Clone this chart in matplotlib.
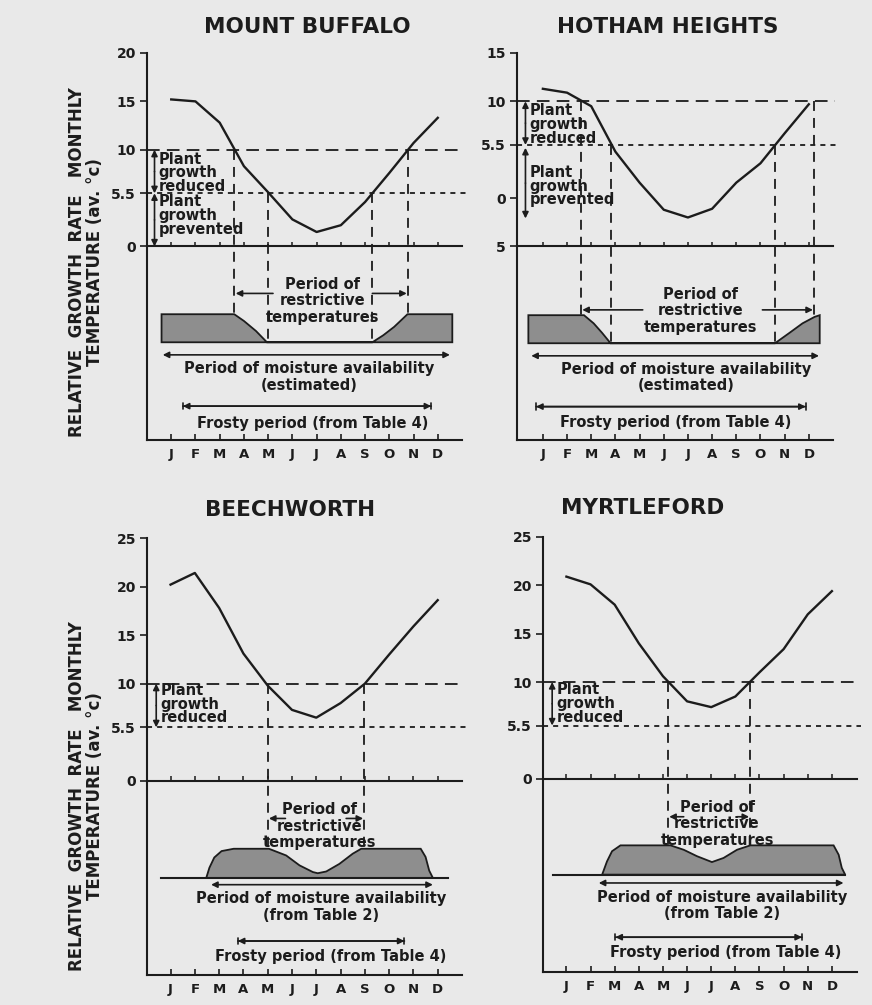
import matplotlib.pyplot as plt

plt.rcParams['font.family'] = ['DejaVu Sans']
plt.rcParams['font.weight'] = 'bold'

W, H = 872, 1005
bg = "#e9e9e9"
ink = "#1c1c1c"
shade = "#8e8e8e"

months = ["J", "F", "M", "A", "M", "J", "J", "A", "S", "O", "N", "D"]
mpos = list(range(12))

# mean monthly temperature (av. deg C)
buffalo_temp = [15.2, 15.0, 12.8, 8.3, 5.6, 2.8, 1.5, 2.2, 4.6, 7.6, 10.7, 13.3]
hotham_temp = [11.3, 10.9, 9.5, 4.8, 1.6, -1.2, -2.0, -1.1, 1.6, 3.6, 6.7, 9.7]
beech_temp = [20.2, 21.4, 17.8, 13.1, 9.8, 7.3, 6.5, 8.0, 10.0, 13.0, 15.9, 18.6]
myrtle_temp = [20.9, 20.1, 18.0, 14.0, 10.6, 8.0, 7.4, 8.5, 11.0, 13.4, 17.0, 19.4]

# restrictive period boundaries (month position): 10 deg and 5.5 deg crossings
buffalo_restrict = [2.61, 3.99, 8.28, 9.77]
hotham_restrict = [1.58, 2.82, 9.6, 11.22]
beech_restrict = [4.0, 7.98]
myrtle_restrict = [4.21, 7.62]

# moisture availability and frosty periods (start, end month position)
buffalo_moist = [-0.35, 11.5]
hotham_moist = [-0.48, 11.42]
beech_moist = [1.67, 10.8]
myrtle_moist = [1.34, 11.48]

buffalo_frost = [0.48, 10.73]
hotham_frost = [-0.28, 10.87]
beech_frost = [2.77, 9.63]
myrtle_frost = [2.03, 9.76]

# relative growth rate (0 = none, 1 = full)
buffalo_gx = [-0.4, 2.6, 3.0, 3.5, 3.95, 8.3, 8.75, 9.2, 9.75, 11.6]
buffalo_g = [1, 1, 0.76, 0.4, 0, 0, 0.25, 0.55, 1, 1]
hotham_gx = [-0.6, 1.7, 2.1, 2.45, 2.8, 9.6, 10.2, 10.74, 11.24, 11.45]
hotham_g = [1, 1, 0.71, 0.37, 0, 0, 0.37, 0.71, 0.94, 1]
beech_gx = [1.47, 1.6, 1.8, 2.1, 2.6, 4.05, 4.76, 5.31, 5.86, 6.06, 6.41, 6.95, 7.5, 7.85,
            10.3, 10.5, 10.65, 10.8]
beech_g = [0, 0.35, 0.7, 0.92, 1, 1, 0.77, 0.43, 0.2, 0.16, 0.22, 0.48, 0.83, 1,
           1, 0.72, 0.25, 0]
myrtle_gx = [1.48, 1.68, 1.89, 2.24, 4.31, 4.86, 5.41, 6.03, 6.51, 7.07, 7.62, 11.07, 11.28,
             11.41, 11.55]
myrtle_g = [0, 0.45, 0.8, 1, 1, 0.85, 0.63, 0.43, 0.57, 0.85, 1, 1, 0.68, 0.23, 0]

FS = 10.5


def arrow(ax, x0, y0, x1, y1, style="-|>"):
    ax.annotate("", xy=(x1, y1), xytext=(x0, y0),
                arrowprops=dict(arrowstyle=style, color=ink, lw=1.2,
                                shrinkA=0, shrinkB=0, mutation_scale=9))


def panel(box, xlim, ylim, yticks, ylabels, base, temp, restrict, gx, g, band,
          moist, frost, lay, moist_note, baseline=None):
    l, r, t, b = box
    ax = fig.add_axes([l / W, 1 - b / H, (r - l) / W, (b - t) / H])
    ax.set_facecolor(bg)
    ax.set_xlim(xlim)
    ax.set_ylim(ylim)
    for s in ["top", "right"]:
        ax.spines[s].set_visible(False)
    for s in ["left", "bottom"]:
        ax.spines[s].set_linewidth(1.5)
        ax.spines[s].set_color(ink)
    ax.set_xticks(mpos)
    ax.set_xticklabels(months, fontsize=9.5, fontweight="bold")
    ax.tick_params(axis="x", direction="in", length=4, width=1.2, pad=6, colors=ink)
    ax.set_yticks(yticks)
    ax.set_yticklabels(ylabels, fontsize=10, fontweight="bold")
    ax.tick_params(axis="y", direction="out", length=5, width=1.2, pad=3, colors=ink)

    # zero / base line with month ticks
    ax.plot([xlim[0], xlim[1]], [base, base], color=ink, lw=1.5, clip_on=False)
    ax.vlines(mpos, base, base + 0.5, color=ink, lw=1.1)

    # thresholds
    ax.plot([xlim[0], 12.1], [10, 10], color=ink, lw=1.3, ls=(0, (7, 4)), clip_on=False)
    ax.plot([xlim[0], 12.2], [5.5, 5.5], color=ink, lw=1.3, ls=(0, (2.8, 2.8)), clip_on=False)

    ax.plot(mpos, temp, color=ink, lw=1.7)

    # growth band
    top, bot = band
    ys = [bot + v * (top - bot) for v in g]
    px = [gx[0]] + gx + [gx[-1]]
    py = [bot] + ys + [bot]
    ax.fill(px, py, facecolor=shade, edgecolor=ink, lw=1.3)
    if baseline is not None:
        ax.plot(baseline, [bot, bot], color=ink, lw=1.5)

    # restrictive period guides
    vd = (0, (5.5, 3.9))
    if len(restrict) == 4:
        ax.plot([restrict[0]] * 2, [10, top], color=ink, lw=1.3, ls=vd)
        ax.plot([restrict[1]] * 2, [5.5, bot], color=ink, lw=1.3, ls=vd)
        ax.plot([restrict[2]] * 2, [5.5, bot], color=ink, lw=1.3, ls=vd)
        ax.plot([restrict[3]] * 2, [10, top], color=ink, lw=1.3, ls=vd)
        ra, rb = restrict[0], restrict[3]
    else:
        ax.plot([restrict[0]] * 2, [10, top], color=ink, lw=1.3, ls=vd)
        ax.plot([restrict[1]] * 2, [10, top], color=ink, lw=1.3, ls=vd)
        ra, rb = restrict
    ay = lay["arr_y"]
    arrow(ax, lay["arr_in"][0], ay, ra + 0.05, ay)
    arrow(ax, lay["arr_in"][1], ay, rb - 0.05, ay)
    ax.text(lay["rt_x"], lay["rt_y"], "Period of\nrestrictive\ntemperatures",
            ha="center", va="center", fontsize=FS, fontweight="bold",
            linespacing=1.12, color=ink)

    # moisture availability
    my = lay["moist_y"]
    arrow(ax, moist[0], my, moist[1], my, "<|-|>")
    ax.text(lay["mt_x"], lay["mt_y"], "Period of moisture availability\n" + moist_note,
            ha="center", va="center", fontsize=FS, fontweight="bold",
            linespacing=1.12, color=ink)

    # frosty period
    fy = lay["frost_y"]
    arrow(ax, frost[0], fy, frost[1], fy, "<|-|>")
    ax.annotate("", xy=(frost[1], fy), xytext=(frost[0], fy),
                arrowprops=dict(arrowstyle="|-|,widthA=0.25,widthB=0.25", color=ink,
                                lw=1.2, shrinkA=0, shrinkB=0, mutation_scale=9))
    ax.text(lay["ft_x"], lay["ft_y"], "Frosty period (from Table 4)",
            ha="center", va="center", fontsize=FS, fontweight="bold", color=ink)

    # plant growth notes
    gxp = lay["pg_x"]
    arrow(ax, gxp, 7.75, gxp, 10, "-|>")
    arrow(ax, gxp, 7.75, gxp, 5.5, "-|>")
    ax.text(gxp + 0.17, lay["red_y"], "Plant\ngrowth\nreduced", ha="left", va="center",
            fontsize=FS, fontweight="bold", linespacing=0.9, color=ink)
    if "prev" in lay:
        p0, p1 = lay["prev"]
        arrow(ax, gxp, (p0 + p1) / 2, gxp, p0, "-|>")
        arrow(ax, gxp, (p0 + p1) / 2, gxp, p1, "-|>")
        ax.text(gxp + 0.17, lay["prev_y"], "Plant\ngrowth\nprevented", ha="left",
                va="center", fontsize=FS, fontweight="bold", linespacing=0.9, color=ink)
    return ax


fig = plt.figure(figsize=(W / 100, H / 100), dpi=100)
fig.patch.set_facecolor(bg)

panel((147, 462, 53, 440), (-1, 12), (-20, 20), [20, 15, 10, 5.5, 0],
      ["20", "15", "10", "5.5", "0"], 0, buffalo_temp, buffalo_restrict,
      buffalo_gx, buffalo_g, (-7.0, -9.9), buffalo_moist, buffalo_frost,
      dict(arr_y=-4.85, arr_in=(4.2, 8.3), rt_x=6.26, rt_y=-5.6,
           moist_y=-11.2, mt_x=5.7, mt_y=-13.5, frost_y=-16.5, ft_x=5.85, ft_y=-18.3,
           pg_x=-0.69, red_y=7.6, prev=(5.5, 0.0), prev_y=3.2),
      "(estimated)")

panel((517, 833, 53, 440), (-1.07, 12), (-25, 15), [15, 10, 5.5, 0, -5],
      ["15", "10", "5.5", "0", "5"], -5, hotham_temp, hotham_restrict,
      hotham_gx, hotham_g, (-12.1, -15.0), hotham_moist, hotham_frost,
      dict(arr_y=-11.55, arr_in=(4.13, 9.08), rt_x=6.53, rt_y=-11.65,
           moist_y=-16.3, mt_x=5.91, mt_y=-18.55, frost_y=-21.55, ft_x=5.5, ft_y=-23.2,
           pg_x=-0.72, red_y=7.6, prev=(5.2, -2.1), prev_y=1.25),
      "(estimated)")

panel((147, 462, 538, 975), (-0.97, 12), (-20, 25), [25, 20, 15, 10, 5.5, 0],
      ["25", "20", "15", "10", "5.5", "0"], 0, beech_temp, beech_restrict,
      beech_gx, beech_g, (-7.0, -10.0), beech_moist, beech_frost,
      dict(arr_y=-3.88, arr_in=(4.73, 7.23), rt_x=6.13, rt_y=-4.7,
           moist_y=-10.7, mt_x=6.2, mt_y=-13.0, frost_y=-16.5, ft_x=6.6, ft_y=-18.1,
           pg_x=-0.59, red_y=7.9),
      "(from Table 2)", baseline=(-0.38, 11.41))

panel((543, 857, 537, 972), (-0.97, 12.04), (-20, 25), [25, 20, 15, 10, 5.5, 0],
      ["25", "20", "15", "10", "5.5", "0"], 0, myrtle_temp, myrtle_restrict,
      myrtle_gx, myrtle_g, (-6.9, -9.93), myrtle_moist, myrtle_frost,
      dict(arr_y=-3.94, arr_in=(4.86, 7.07), rt_x=6.24, rt_y=-4.65,
           moist_y=-10.79, mt_x=6.45, mt_y=-13.1, frost_y=-16.4, ft_x=6.58, ft_y=-17.98,
           pg_x=-0.59, red_y=7.8),
      "(from Table 2)", baseline=(-0.55, 11.55))

for x, y, name in [(307, 27, "MOUNT BUFFALO"), (668, 27, "HOTHAM HEIGHTS"),
                   (290, 510, "BEECHWORTH"), (643, 508, "MYRTLEFORD")]:
    fig.text(x / W, 1 - y / H, name, ha="center", va="center", fontsize=15.5,
             fontweight="bold", color=ink)

for yc in [262, 796]:
    fig.text(86 / W, 1 - yc / H, "RELATIVE  GROWTH  RATE   MONTHLY\nTEMPERATURE (av. °c)",
             rotation=90, ha="center", va="center", multialignment="center",
             fontsize=12, fontweight="bold", linespacing=1.0, color=ink)

fig.savefig("out.png", dpi=100, facecolor=bg)
